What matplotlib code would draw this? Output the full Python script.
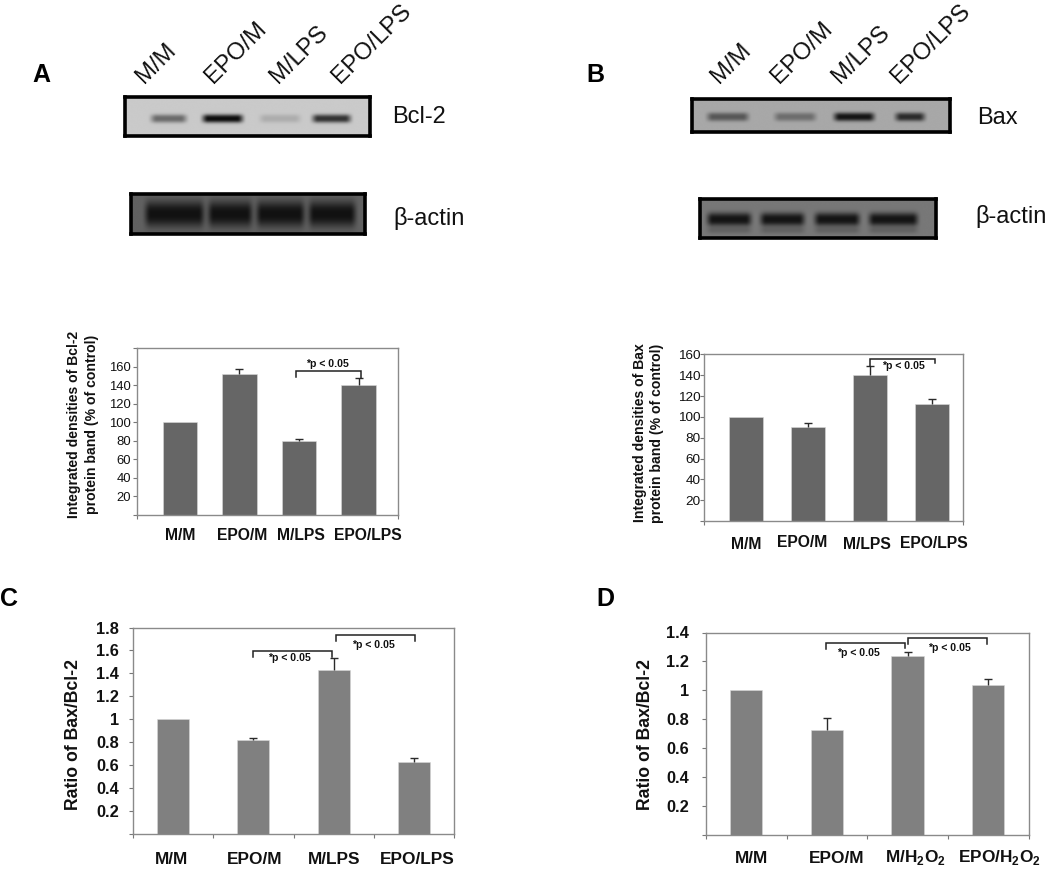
import numpy as np
import matplotlib
matplotlib.use("Agg")
import matplotlib.pyplot as plt
from matplotlib.transforms import ScaledTranslation

plt.rcParams['font.family'] = ['Liberation Sans', 'DejaVu Sans']
plt.rcParams['mathtext.fontset'] = 'custom'
plt.rcParams['mathtext.rm'] = 'Liberation Sans:bold'
plt.rcParams['mathtext.bf'] = 'Liberation Sans:bold'

# ---------- data ----------
lanes = ['M/M', 'EPO/M', 'M/LPS', 'EPO/LPS']
lanes_h2o2 = ['M/M', 'EPO/M', r'M/H$_{\mathbf{2}}$O$_{\mathbf{2}}$', r'EPO/H$_{\mathbf{2}}$O$_{\mathbf{2}}$']

bcl2_density = [100, 152, 80, 140]
bcl2_top = [100, 157, 82, 148]
bax_density = [100, 90, 140, 112]
bax_top = [100, 94, 149, 117]
ratio_lps = [1.0, 0.815, 1.425, 0.625]
ratio_lps_top = [1.0, 0.835, 1.53, 0.662]
ratio_h2o2 = [1.0, 0.726, 1.234, 1.038]
ratio_h2o2_top = [1.0, 0.81, 1.266, 1.077]

bcl2_band = [0.5, 1.0, 0.15, 0.8]
actin_a_band = [1.0, 1.0, 1.0, 1.0]
bax_band = [0.55, 0.4, 1.0, 0.85]
actin_b_band = [1.0, 1.0, 1.0, 1.0]

W, H = 1050, 869
fig = plt.figure(figsize=(W / 100, H / 100), dpi=100, facecolor='white')
ov = fig.add_axes([0, 0, 1, 1], zorder=5)
ov.set_xlim(0, W); ov.set_ylim(H, 0); ov.axis('off'); ov.patch.set_alpha(0)


def rect(l, t, r, b):
    return [l / W, 1 - b / H, (r - l) / W, (b - t) / H]


def blot(frame, spans, yc, h, strengths, bg, band_dark, extra=None):
    l, t, r, b = frame
    ax = fig.add_axes(rect(l + 1.5, t + 1.5, r - 1.5, b - 1.5))
    nx, ny = int(r - l) * 2, int(b - t) * 2
    xs = np.linspace(l, r, nx)
    ys = np.linspace(t, b, ny)
    img = np.full((ny, nx), bg, dtype=float)
    for (x0, x1), s in zip(spans, strengths):
        px = np.clip((xs - x0) / 10, 0, 1) * np.clip((x1 - xs) / 10, 0, 1)
        px = px * px * (3 - 2 * px)
        py = np.exp(-np.abs((ys - yc) / (h / 1.7)) ** 2.6)
        img -= (bg - band_dark) * s * np.outer(py, px)
        if extra:
            py2 = np.exp(-((ys - extra[0]) / extra[1]) ** 2)
            img -= extra[2] * np.outer(py2, px)
    ax.imshow(np.clip(img, 0, 1), cmap='gray', vmin=0, vmax=1, aspect='auto', interpolation='bicubic')
    ax.set_xticks([]); ax.set_yticks([])
    for s in ax.spines.values():
        s.set_linewidth(2.6); s.set_color('black')


def blot_labels(names, anchors, y, size=17.1):
    for n, x in zip(names, anchors):
        ov.text(x, y, n, rotation=45, rotation_mode='anchor', ha='left', va='baseline',
                fontsize=size, color='#111111')


def bars(box, xlim, ylim, vals, tops, names, ticks, labs, color, width, dx, pad, lab_size, tick_size,
         tick_bold, tick_pad, ylabel, ylab_xy, ylab_size, boundary=False, dy=None):
    ax = fig.add_axes(rect(*box))
    x = np.arange(len(vals))
    ax.bar(x, vals, width=width, color=color, edgecolor='#d8d8d8', linewidth=0.4, zorder=2)
    ax.vlines(x[1:], np.array(vals[1:]), np.array(tops[1:]), color='#2a2a2a', lw=1.0, zorder=3)
    ax.plot(x[1:], tops[1:], ls='none', marker='_', ms=6, mew=1.0, color='#2a2a2a', zorder=3)
    ax.set_xlim(*xlim); ax.set_ylim(*ylim)
    for s in ax.spines.values():
        s.set_color('#8a8a8a'); s.set_linewidth(1.0)
    ax.set_yticks(ticks, labs, fontsize=tick_size, fontweight='bold' if tick_bold else 'normal',
                  color='#111111')
    ax.tick_params(axis='y', length=3, width=0.8, color='#777777', pad=tick_pad)
    ax.set_xticks(x, names, fontsize=lab_size, fontweight='bold', color='#111111')
    ax.tick_params(axis='x', which='major', length=0, pad=pad)
    if boundary:
        ax.set_xticks(np.arange(len(vals) + 1) - 0.5, minor=True)
    else:
        ax.set_xticks(xlim, minor=True)
    ax.tick_params(axis='x', which='minor', length=3, width=0.8, color='#777777')
    for i, t in enumerate(ax.get_xticklabels()):
        off_y = -(dy[i] if dy else 0) / 100
        t.set_transform(t.get_transform() + ScaledTranslation(dx[i] / 100, off_y, fig.dpi_scale_trans))
    ax.set_ylabel(ylabel, fontsize=ylab_size, fontweight='bold', color='#111111', linespacing=1.32,
                  va='center', ha='center')
    ax.yaxis.set_label_coords(ylab_xy[0], ylab_xy[1], transform=ov.transData)
    return ax


def bracket(x0, x1, top, yl, yr, text, tx, ty):
    ov.plot([x0, x0, x1, x1], [yl, top, top, yr], color='#222222', lw=1.1, solid_joinstyle='miter')
    ov.text(tx, ty, text, ha='center', va='center', fontsize=7.6, fontweight='bold', color='#111111')


# ---------- blots ----------
blot((123, 95, 371, 137.5), [(145, 189), (197, 246), (255, 304), (308, 355)], 119, 7.5, bcl2_band, 0.79, 0.05)
blot((129, 192.5, 366, 235.5), [(139, 207), (203, 256), (252, 309), (305, 361)], 214, 23, actin_a_band, 0.38, 0.07)
blot((690, 97.5, 951, 133.5), [(701, 751), (769, 819), (829, 878), (891, 929)], 117, 8, bax_band, 0.66, 0.08)
blot((698, 197, 937, 239), [(701, 754), (755, 808), (810, 864), (865, 923)], 220, 12, actin_b_band, 0.47, 0.08,
     extra=(232, 3.5, 0.08))

blot_labels(lanes, [144, 213, 278, 340], 84)
blot_labels(lanes, [719, 779, 840, 899], 84)

for x, y, s in [(392, 117, 'Bcl-2'), (393, 219, 'β-actin'), (977, 118, 'Bax'), (975, 216, 'β-actin')]:
    ov.text(x, y, s, fontsize=17, va='center', ha='left', color='#111111')
for x, y, s in [(32, 75, 'A'), (586, 75, 'B'), (0, 599, 'C'), (596, 599, 'D')]:
    ov.text(x, y, s, fontsize=18, fontweight='bold', va='center', ha='left', color='black')

# ---------- bar panels ----------
small_ticks = list(range(0, 181, 20))
bars((137, 348, 398, 515), (-0.72, 3.66), (0, 180), bcl2_density, bcl2_top, lanes, small_ticks,
     ['', '20', '40', '60', '80', '100', '120', '140', '160', ''], '#666666', 0.58,
     [0, 2.5, 2, 9], 9, 11.3, 9.4, False, 1.5,
     'Integrated densities of Bcl-2\nprotein band (% of control)', (83, 424), 10.1)
bars((703.5, 354.5, 963, 521), (-0.68, 3.5), (0, 160), bax_density, bax_top, lanes, list(range(0, 161, 20)),
     ['', '20', '40', '60', '80', '100', '120', '140', '160'], '#666666', 0.55,
     [0.5, -6, -3, 2], 11, 11.3, 9.7, False, -1,
     'Integrated densities of Bax\nprotein band (% of control)', (648.5, 433), 10.1, dy=[1, -1, 1, 0])
bars((132.5, 627.5, 454.5, 833.5), (-0.5, 3.5), (0, 1.8), ratio_lps, ratio_lps_top, lanes,
     [0, .2, .4, .6, .8, 1, 1.2, 1.4, 1.6, 1.8], ['', '0.2', '0.4', '0.6', '0.8', '1', '1.2', '1.4', '1.6', '1.8'],
     '#808080', 0.4, [-1, 1, 0.5, 2.7], 13, 12.4, 11.8, True, 6.5, 'Ratio of Bax/Bcl-2', (74, 734), 12.7, boundary=True)
bars((706, 632.5, 1028.5, 834.5), (-0.5, 3.5), (0, 1.4), ratio_h2o2, ratio_h2o2_top, lanes_h2o2,
     [0, .2, .4, .6, .8, 1, 1.2, 1.4], ['', '0.2', '0.4', '0.6', '0.8', '1', '1.2', '1.4'],
     '#808080', 0.4, [5, 10, 7.5, 11], 12, 12.4, 11.8, True, 9.5, 'Ratio of Bax/Bcl-2', (646, 734), 12.7,
     boundary=True, dy=[0, 0, -3, -3])

# ---------- significance brackets ----------
p = '*p < 0.05'
bracket(295.7, 360.7, 370.7, 377, 378, p, 327, 364)
bracket(870, 935, 359, 366, 363, p, 903, 366)
bracket(253.3, 332, 650.7, 657, 657, p, 289, 658)
bracket(335.7, 414.7, 634.7, 641, 641, p, 373, 645)
bracket(826, 905.3, 643, 649, 648, p, 858, 652.7)
bracket(907.7, 986.7, 637.7, 644, 644, p, 949, 648)

fig.savefig('out.png', dpi=100, facecolor='white')
